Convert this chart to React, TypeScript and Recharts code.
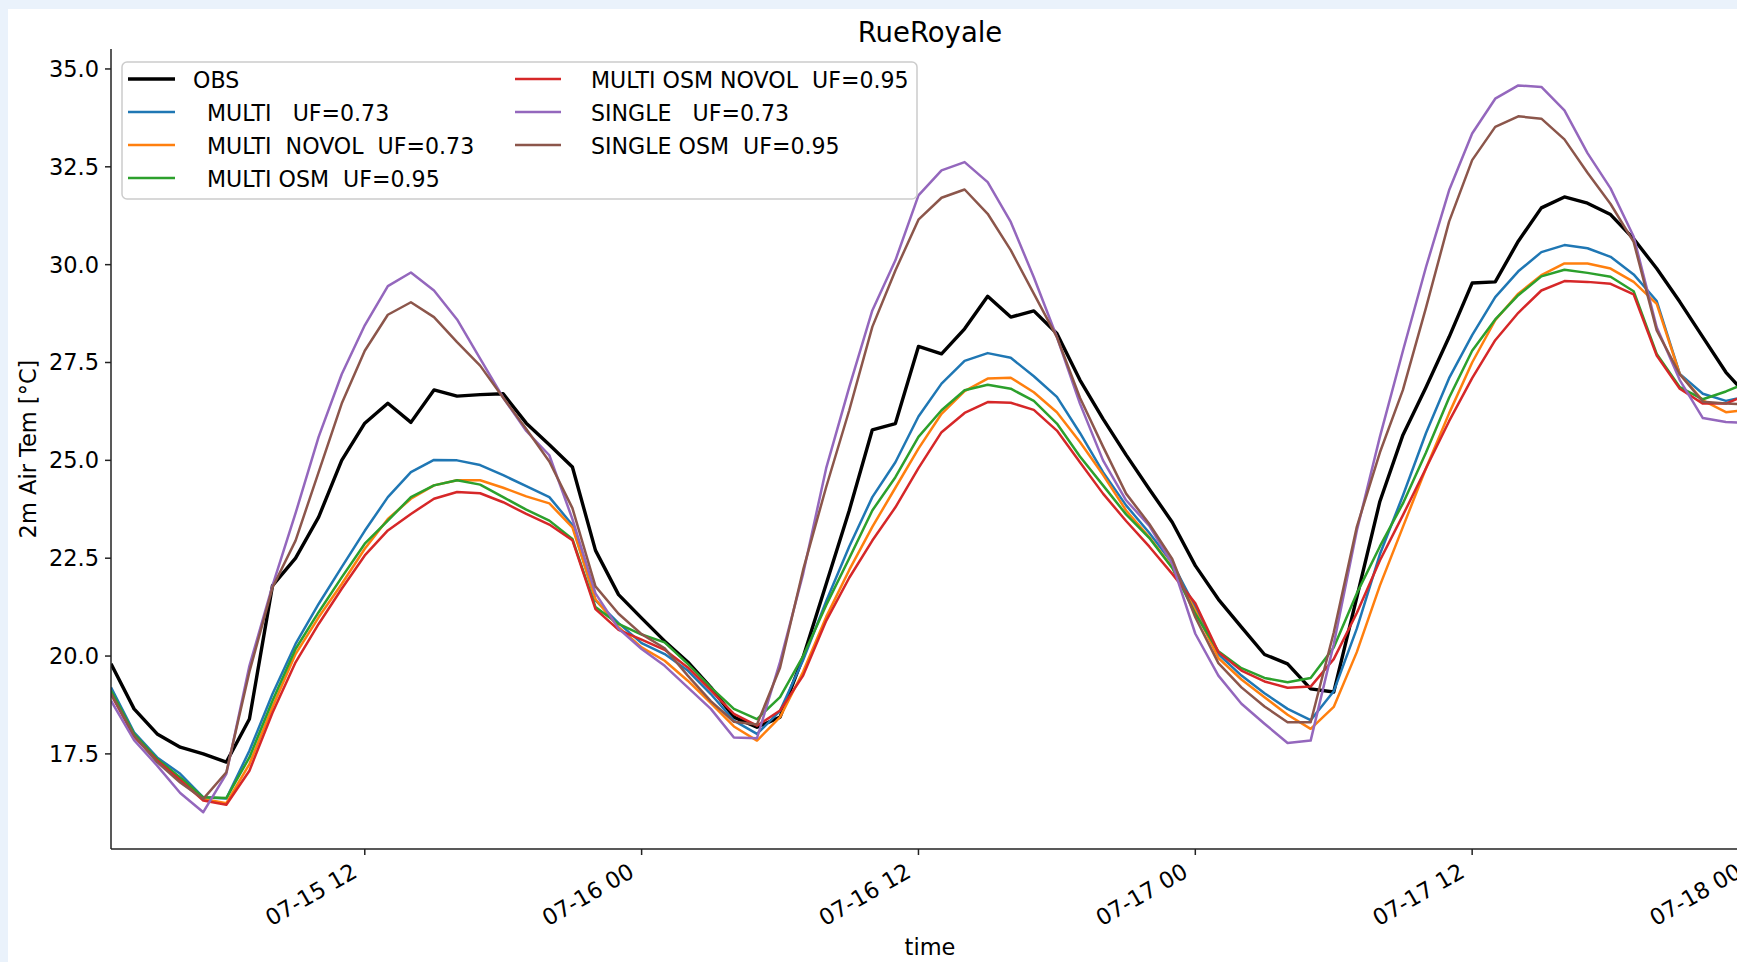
import React from "react";
import { LineChart, Line, XAxis, YAxis } from "recharts";

// hourly samples, first one at 07-15 01:00
const START_DAY = 15;
const START_HOUR = 1;

const obs = [
  19.8, 18.65, 18.01, 17.67, 17.5, 17.29, 18.39, 21.8, 22.5, 23.55,
  25.0, 25.95, 26.46, 25.97, 26.8, 26.64, 26.68, 26.7, 25.95, 25.4,
  24.83, 22.7, 21.57, 20.97, 20.38, 19.85, 19.2, 18.44, 18.18, 18.44,
  19.97, 21.84, 23.72, 25.78, 25.94, 27.91, 27.72, 28.36, 29.19, 28.66,
  28.82, 28.24, 27.05, 26.06, 25.14, 24.27, 23.42, 22.31, 21.45, 20.74,
  20.04, 19.8, 19.16, 19.08, 21.5, 23.95, 25.65, 26.87, 28.15, 29.53,
  29.56, 30.6, 31.45, 31.73, 31.57, 31.28, 30.66, 29.9, 29.05, 28.15,
  27.25, 26.6,
];

const multi = [
  19.2, 18.05, 17.41, 16.99, 16.39, 16.36, 17.58, 19.03, 20.31, 21.33,
  22.27, 23.2, 24.06, 24.7, 25.01, 25.0, 24.88, 24.62, 24.34, 24.06,
  23.35, 21.42, 20.84, 20.33, 20.05, 19.63, 19.03, 18.35, 18.01, 18.6,
  19.9, 21.4, 22.8, 24.06, 24.95, 26.12, 26.96, 27.54, 27.74, 27.62,
  27.15, 26.62, 25.7, 24.7, 23.85, 23.15, 22.38, 21.25, 20.05, 19.5,
  19.05, 18.65, 18.36, 19.1, 20.7, 22.6, 24.1, 25.7, 27.1, 28.2,
  29.17, 29.83, 30.32, 30.5, 30.42, 30.2, 29.75, 29.07, 27.21, 26.7,
  26.52, 26.65,
];

const multiNovol = [
  19.07, 17.97, 17.35, 16.86, 16.35, 16.24, 17.24, 18.7, 20.05, 20.99,
  21.84, 22.74, 23.5, 24.02, 24.36, 24.49, 24.49, 24.3, 24.08, 23.9,
  23.29, 21.45, 20.74, 20.22, 19.88, 19.37, 18.8, 18.2, 17.84, 18.44,
  19.6, 21.0, 22.2, 23.3, 24.3, 25.3, 26.19, 26.77, 27.09, 27.11,
  26.74, 26.23, 25.47, 24.63, 23.72, 23.04, 22.27, 21.16, 19.95, 19.4,
  18.95, 18.5, 18.14, 18.7, 20.1, 21.8, 23.3, 24.8, 26.2, 27.5,
  28.58, 29.26, 29.73, 30.03, 30.03, 29.9, 29.56, 29.0, 27.2, 26.53,
  26.23, 26.3,
];

const multiOsm = [
  19.12, 18.01, 17.37, 16.9, 16.39, 16.37, 17.41, 18.86, 20.18, 21.12,
  22.01, 22.87, 23.46, 24.06, 24.36, 24.49, 24.38, 24.06, 23.74, 23.46,
  22.99, 21.25, 20.82, 20.55, 20.35, 19.8, 19.2, 18.65, 18.39, 18.95,
  20.0, 21.3, 22.5, 23.72, 24.57, 25.6, 26.28, 26.79, 26.93, 26.83,
  26.52, 25.94, 25.1, 24.36, 23.62, 23.02, 22.25, 21.08, 20.12, 19.69,
  19.44, 19.33, 19.44, 20.22, 21.6, 22.8, 23.9, 25.2, 26.6, 27.8,
  28.6, 29.22, 29.7, 29.87, 29.79, 29.69, 29.32, 27.72, 26.87, 26.56,
  26.76, 27.0,
];

const multiOsmNovol = [
  19.03, 17.94, 17.33, 16.83, 16.31, 16.2, 17.07, 18.55, 19.84, 20.82,
  21.72, 22.57, 23.21, 23.63, 24.02, 24.19, 24.16, 23.93, 23.63, 23.36,
  22.96, 21.2, 20.67, 20.42, 20.16, 19.71, 19.12, 18.52, 18.22, 18.61,
  19.5, 20.9, 22.0, 22.95, 23.8, 24.8, 25.72, 26.21, 26.49, 26.47,
  26.29, 25.76, 24.95, 24.15, 23.45, 22.8, 22.1, 21.35, 20.1, 19.63,
  19.35, 19.19, 19.22, 19.92, 21.1, 22.44, 23.6, 24.8, 26.0, 27.1,
  28.07, 28.77, 29.34, 29.58, 29.56, 29.51, 29.24, 27.68, 26.83, 26.45,
  26.45, 26.7,
];

const single = [
  18.86, 17.85, 17.2, 16.5, 16.01, 16.99, 19.75, 21.8, 23.65, 25.6,
  27.2, 28.45, 29.45, 29.8, 29.34, 28.6, 27.6, 26.6, 25.75, 25.13,
  23.5, 21.6, 20.7, 20.18, 19.75, 19.2, 18.65, 17.92, 17.9, 19.85,
  22.1, 24.8, 26.87, 28.83, 30.11, 31.77, 32.41, 32.62, 32.11, 31.09,
  29.68, 28.15, 26.45, 25.0, 23.98, 23.33, 22.36, 20.57, 19.5, 18.78,
  18.27, 17.78, 17.84, 20.3, 23.2, 25.6, 27.8, 29.94, 31.9, 33.35,
  34.24, 34.58, 34.54, 33.94, 32.85, 31.95, 30.72, 28.4, 27.05, 26.08,
  25.98, 25.95,
];

const singleOsm = [
  19.03, 17.97, 17.29, 16.77, 16.35, 17.03, 19.6, 21.75, 22.95, 24.7,
  26.45, 27.8, 28.72, 29.04, 28.66, 28.02, 27.42, 26.6, 25.8, 24.97,
  23.78, 21.78, 21.08, 20.56, 20.2, 19.5, 18.85, 18.32, 18.25, 19.7,
  22.2, 24.32, 26.28, 28.41, 29.85, 31.15, 31.71, 31.92, 31.3, 30.37,
  29.26, 28.15, 26.6, 25.35, 24.15, 23.38, 22.48, 20.99, 19.82, 19.2,
  18.71, 18.31, 18.31, 20.6, 23.3, 25.2, 26.8, 28.9, 31.1, 32.67,
  33.52, 33.79, 33.73, 33.2, 32.35, 31.55, 30.58, 28.32, 27.2, 26.5,
  26.45, 26.43,
];

const X_TICKS = [11, 23, 35, 47, 59, 71];
const Y_TICKS = [17.5, 20, 22.5, 25, 27.5, 30, 32.5, 35];
const Y_DOMAIN = [15.07, 35.51];

const SERIES = [
  { key: "obs", name: "OBS", color: "#000000", width: 3.4, values: obs },
  { key: "multi", name: "  MULTI   UF=0.73", color: "#1f77b4", width: 2.5, values: multi },
  { key: "multiNovol", name: "  MULTI  NOVOL  UF=0.73", color: "#ff7f0e", width: 2.5, values: multiNovol },
  { key: "multiOsm", name: "  MULTI OSM  UF=0.95", color: "#2ca02c", width: 2.5, values: multiOsm },
  { key: "multiOsmNovol", name: "  MULTI OSM NOVOL  UF=0.95", color: "#d62728", width: 2.5, values: multiOsmNovol },
  { key: "single", name: "  SINGLE   UF=0.73", color: "#9467bd", width: 2.5, values: single },
  { key: "singleOsm", name: "  SINGLE OSM  UF=0.95", color: "#8c564b", width: 2.5, values: singleOsm },
];

const rows = obs.map((_, i) => {
  const row: Record<string, number> = { h: i };
  SERIES.forEach((s) => {
    row[s.key] = s.values[i];
  });
  return row;
});

const FONT = 22.5;
const LEGEND_FONT = 22.1;
const SPINE = "#222";

function hourLabel(h: number) {
  const total = START_HOUR + h;
  const day = START_DAY + Math.floor(total / 24);
  const hh = total % 24;
  return `07-${day} ${String(hh).padStart(2, "0")}`;
}

// rotated date tick, right edge of the text sits under the tick
function XTick(props: any) {
  const { x, y, payload } = props;
  return (
    <text
      x={0}
      y={0}
      transform={`translate(${x - 6},${y + 15}) rotate(-30)`}
      textAnchor="end"
      fontSize={FONT}
      fill="#000"
    >
      {hourLabel(payload.value)}
    </text>
  );
}

function LegendBox() {
  const rowsY = [79, 112, 145, 178];
  const cols = [
    { x1: 128, x2: 175, tx: 193 },
    { x1: 515, x2: 561, tx: 577 },
  ];
  return (
    <g>
      <rect
        x={122}
        y={62}
        width={795}
        height={137}
        rx={5}
        fill="#fff"
        fillOpacity={0.8}
        stroke="#cccccc"
        strokeWidth={1.5}
      />
      {SERIES.map((s, i) => {
        const col = cols[i < 4 ? 0 : 1];
        const cy = rowsY[i < 4 ? i : i - 4];
        return (
          <g key={s.key}>
            <line x1={col.x1} x2={col.x2} y1={cy} y2={cy} stroke={s.color} strokeWidth={s.width} />
            <text
              x={col.tx}
              y={cy + 8.5}
              fontSize={LEGEND_FONT}
              fill="#000"
              xmlSpace="preserve"
              style={{ whiteSpace: "pre" }}
            >
              {s.name}
            </text>
          </g>
        );
      })}
    </g>
  );
}

export default function App() {
  return (
    <div
      style={{
        position: "fixed",
        left: 0,
        top: 0,
        width: 1737,
        height: 962,
        overflow: "hidden",
        background: "#eaf2fb",
        fontFamily: "'DejaVu Sans', sans-serif",
      }}
    >
      <div style={{ position: "absolute", left: 8, top: 9, right: 0, bottom: 0, background: "#fff" }} />
      <div style={{ position: "absolute", left: 0, top: 0 }}>
        <LineChart
          width={1759}
          height={962}
          data={rows}
          margin={{ top: 49, right: 10, bottom: 0, left: 0 }}
        >
          <XAxis
            dataKey="h"
            type="number"
            domain={[0, 71]}
            ticks={X_TICKS}
            allowDataOverflow
            height={113}
            tickSize={6}
            tickMargin={6}
            tick={<XTick />}
            axisLine={{ stroke: SPINE, strokeWidth: 1.5 }}
            tickLine={{ stroke: SPINE, strokeWidth: 1.5 }}
          />
          <XAxis
            xAxisId="top"
            orientation="top"
            dataKey="h"
            type="number"
            domain={[0, 71]}
            height={0}
            tick={false}
            tickLine={false}
            axisLine={{ stroke: SPINE, strokeWidth: 1.5 }}
          />
          <YAxis
            type="number"
            domain={Y_DOMAIN}
            ticks={Y_TICKS}
            allowDataOverflow
            width={111}
            tickSize={6}
            tickMargin={6}
            tickFormatter={(v: number) => v.toFixed(1)}
            tick={{ fontSize: FONT, fill: "#000" }}
            axisLine={{ stroke: SPINE, strokeWidth: 1.5 }}
            tickLine={{ stroke: SPINE, strokeWidth: 1.5 }}
          />
          {SERIES.map((s) => (
            <Line
              key={s.key}
              type="linear"
              dataKey={s.key}
              stroke={s.color}
              strokeWidth={s.width}
              strokeLinejoin="round"
              dot={false}
              activeDot={false}
              isAnimationActive={false}
            />
          ))}
        </LineChart>
      </div>
      <svg
        width={1737}
        height={962}
        style={{ position: "absolute", left: 0, top: 0, pointerEvents: "none" }}
        fontFamily="'DejaVu Sans', sans-serif"
      >
        <text x={930} y={41.5} textAnchor="middle" fontSize={27.5} fill="#000">
          RueRoyale
        </text>
        <text x={930} y={955} textAnchor="middle" fontSize={FONT} fill="#000">
          time
        </text>
        <text
          x={0}
          y={0}
          transform="translate(36,449) rotate(-90)"
          textAnchor="middle"
          fontSize={FONT}
          fill="#000"
        >
          2m Air Tem [°C]
        </text>
        <LegendBox />
      </svg>
    </div>
  );
}
